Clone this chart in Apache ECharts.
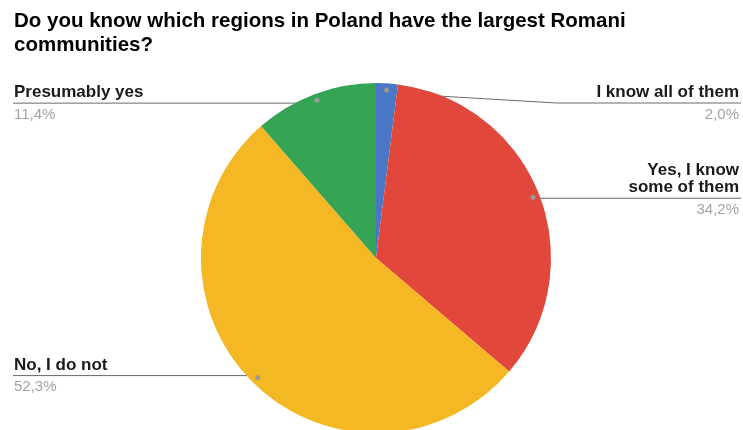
<!DOCTYPE html>
<html>
<head>
<meta charset="utf-8">
<script src="https://cdn.jsdelivr.net/npm/echarts@6/dist/echarts.min.js"></script>
<style>
  html, body { margin: 0; padding: 0; background: #fff; }
  #chart { width: 743px; height: 430px; }
</style>
</head>
<body>
<div id="chart"></div>
<script>
// Survey answers, clockwise from 12 o'clock
const titleText = 'Do you know which regions in Poland have the largest Romani\ncommunities?';
const answers = ['I know all of them', 'Yes, I know\nsome of them', 'No, I do not', 'Presumably yes'];
const shares = [2.0, 34.2, 52.3, 11.4];
const sliceColors = ['#4a78c6', '#e1473a', '#f3b823', '#35a455'];

// Layout constants
const FONT = '"Liberation Sans", Arial, sans-serif';
const CX = 376, CY = 258, R = 175;
const DOT_INNER = 0.89;                 // dots sit in the middle of the ring [DOT_INNER*R, R]
const DOT_K = (DOT_INNER + 1) / 2;
const EDGE_L = 14, EDGE_R = 739, LINE_R = 741;
const LINE_TOP = 103;                   // leader lines never run above this
const NAME_LH = 17, VALUE_LH = 27;

function fmtPct(v) {
  return v.toFixed(1).replace('.', ',') + '%';
}

const chart = echarts.init(document.getElementById('chart'));

const sliceData = answers.map((name, i) => ({
  name: name,
  value: shares[i],
  itemStyle: { color: sliceColors[i] }
}));

const dotData = answers.map((name, i) => ({ name: name, value: shares[i] }));

chart.setOption({
  animation: false,
  title: {
    text: titleText,
    left: 14,
    top: 9,
    padding: 0,
    textStyle: {
      fontFamily: FONT,
      fontSize: 20.5,
      fontWeight: 'bold',
      color: '#000',
      lineHeight: 24
    }
  },
  series: [
    {
      type: 'pie',
      center: [CX, CY],
      radius: R,
      startAngle: 90,
      clockwise: true,
      silent: true,
      avoidLabelOverlap: false,
      itemStyle: { borderWidth: 0 },
      data: sliceData,
      label: {
        show: true,
        position: 'outside',
        formatter: function (p) {
          const nameLines = p.name.split('\n').map(s => '{n|' + s + '}').join('\n');
          return nameLines + '\n{v|' + fmtPct(p.value) + '}';
        },
        rich: {
          n: { fontFamily: FONT, fontSize: 17, fontWeight: 'bold', color: '#1a1a1a', lineHeight: NAME_LH },
          v: { fontFamily: FONT, fontSize: 15, color: '#a3a3a3', lineHeight: VALUE_LH }
        }
      },
      labelLine: {
        show: true,
        lineStyle: { color: '#6a6a6a', width: 1 }
      },
      labelLayout: function (params) {
        const pts = params.labelLinePoints;
        if (!pts) return {};
        const p0 = pts[0];
        const dot = [CX + (p0[0] - CX) * DOT_K, CY + (p0[1] - CY) * DOT_K];
        const right = dot[0] > CX;
        const lineY = Math.max(dot[1], LINE_TOP);
        const nameCount = answers[params.dataIndex].split('\n').length;
        const textX = right ? EDGE_R : EDGE_L;
        const endX = right ? LINE_R : EDGE_L - 1;
        const bendX = lineY === dot[1] ? dot[0] : dot[0] + (endX - dot[0]) * 0.48;
        return {
          x: textX,
          y: lineY - 2 - nameCount * NAME_LH,
          align: right ? 'right' : 'left',
          verticalAlign: 'top',
          labelLinePoints: [dot, [bendX, lineY], [endX, lineY]]
        };
      },
      z: 2
    },
    {
      // small grey markers where each leader line starts
      type: 'pie',
      center: [CX, CY],
      radius: [DOT_INNER * R, R],
      startAngle: 90,
      clockwise: true,
      silent: true,
      itemStyle: { color: 'rgba(0,0,0,0)', borderWidth: 0 },
      data: dotData,
      label: {
        show: true,
        position: 'inside',
        rotate: 0,
        formatter: '{d| }',
        rich: {
          d: { width: 5, height: 5, lineHeight: 5, fontSize: 1, backgroundColor: '#9a9a9a', borderRadius: 2.5 }
        }
      },
      labelLine: { show: false },
      z: 3
    }
  ]
});
</script>
</body>
</html>
